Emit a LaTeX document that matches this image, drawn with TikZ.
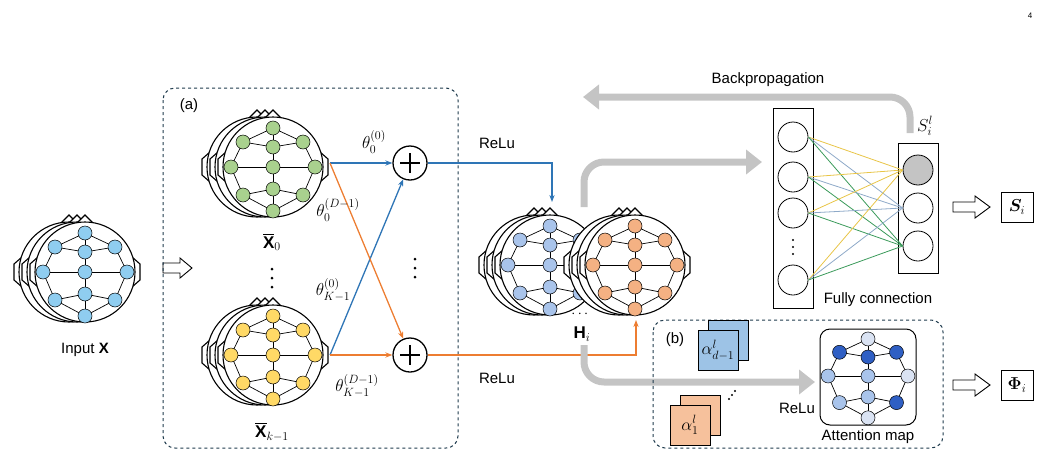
\documentclass[tikz,border=0pt]{standalone}
\usepackage{fontspec}
\setmainfont{Liberation Sans}
\usepackage{amsmath,bm}
\usetikzlibrary{arrows.meta}
\definecolor{lblue}{HTML}{8FCDF0}
\definecolor{lgreen}{HTML}{A9D18E}
\definecolor{lyellow}{HTML}{FFD966}
\definecolor{lorange}{HTML}{F4B183}
\definecolor{sblue}{HTML}{A9C4EB}
\definecolor{sqblue}{HTML}{9DC3E6}
\definecolor{dblue}{HTML}{2F5FC4}
\definecolor{pblue}{HTML}{DAE3F3}
\definecolor{lnblue}{HTML}{2E75B6}
\definecolor{lnorange}{HTML}{ED7D31}
\definecolor{agray}{HTML}{C4C4C4}
\definecolor{dbox}{HTML}{1F3B4D}
\definecolor{fcy}{HTML}{E8C547}
\definecolor{fcb}{HTML}{8EA9C8}
\definecolor{fcg}{HTML}{3A9A5A}
\tikzset{
 enode/.style={circle,draw=black,line width=0.5pt,minimum size=14pt,inner sep=0pt},
 gedge/.style={line width=0.7pt},
 headline/.style={line width=1.1pt,fill=white},
 dbx/.style={draw=dbox,dashed,line width=1pt,rounded corners=12pt},
 garrow/.style={agray,line width=7pt,-{Triangle[length=16pt,width=24pt]}},
 fcc/.style={circle,draw,line width=0.8pt,minimum size=30pt,inner sep=0pt},
 hollow/.style={draw,line width=0.9pt,fill=white},
 plus/.style={circle,draw,line width=1.3pt,minimum size=34pt,inner sep=0pt},
 mlbl/.style={font=\fontsize{17}{20}\selectfont},
 dot/.style={circle,fill=black,inner sep=0pt,minimum size=3pt},
 sdot/.style={circle,fill=black,inner sep=0pt,minimum size=2.2pt},
}
\newcommand\onehead[2]{%
 \begin{scope}[shift={(#1,#2)}]
 \draw[headline] (-47,-15)--(-55,-8)--(-55,8)--(-47,15)--cycle;
 \draw[headline] (47,-15)--(55,-8)--(55,8)--(47,15)--cycle;
 \draw[headline] (-8,-49)--(0,-57)--(8,-49)--cycle;
 \draw[headline] (0,0) circle[radius=50pt];
 \end{scope}}
\newcommand\eeggraph[3]{%
 \begin{scope}[shift={(#2,#3)}]
 \foreach \n/\a/\b in {t/0/-39,ul/-30/-25,um/0/-20,ur/30/-25,l/-42/0,c/0/0,r/42/0,ll/-30/28,lm/0/22,lr/30/28,b/0/44}
   {\coordinate (g#2\n) at (\a,\b);}
 \foreach \u/\v in {t/ul,t/ur,t/um,um/ul,um/ur,ul/l,ur/r,l/c,c/r,um/c,c/lm,lm/ll,lm/lr,ll/l,lr/r,ll/b,lr/b,lm/b}
   {\draw[gedge] (g#2\u)--(g#2\v);}
 \foreach \n in {t,ul,um,ur,l,c,r,ll,lm,lr,b}
   {\node[enode,fill=#1] (n#2\n) at (g#2\n) {};}
 \end{scope}}
\newcommand\headstack[3]{\onehead{#1-16}{#2}\onehead{#1-8}{#2}\onehead{#1}{#2}\eeggraph{#3}{#1}{#2}}
\newcommand\vdotsat[4][dot]{\node[#1] (#2a) at (#3,#4-9) {};\node[#1] (#2b) at (#3,#4) {};\node[#1] (#2c) at (#3,#4+9) {};}
\begin{document}
\begin{tikzpicture}[x=1pt,y=-1pt,font=\fontsize{15}{18}\selectfont]
\useasboundingbox (0,0) rectangle (1042,461);
\node[font=\footnotesize] (pg) at (1030,16) {4};
% input
\headstack{85}{272}{lblue}
\node (inx) at (85,350) {Input $\mathbf{X}$};
\draw[hollow] (163,263)--(180,263)--(180,258)--(192,268)--(180,278)--(180,273)--(163,273)--cycle;
% box a
\draw[dbx] (163,88) rectangle (458,448);
\node (la) at (189,106) {(a)};
\headstack{273}{167}{lgreen}
\node[mlbl] (x0) at (272,242) {$\overline{\mathbf{X}}_0$};
\headstack{273}{355}{lyellow}
\vdotsat{da}{272}{278}
\node[mlbl] (xk) at (272,432) {$\overline{\mathbf{X}}_{k-1}$};
\node[plus] (p1) at (410,163) {};
\node[plus] (p2) at (410,355) {};
\draw[line width=1.5pt] (p1.center) ++(-10,0) -- ++(20,0) (p1.center) ++(0,-10) -- ++(0,20);
\draw[line width=1.5pt] (p2.center) ++(-10,0) -- ++(20,0) (p2.center) ++(0,-10) -- ++(0,20);
\vdotsat{db}{415}{268}
\coordinate (gr) at (330,163);
\coordinate (yr) at (330,355);
\draw[lnblue,line width=1.3pt,-{Stealth[length=7pt]}] (gr)--(p1);
\draw[lnblue,line width=1.3pt,-{Stealth[length=7pt]}] (yr)--(p1);
\draw[lnorange,line width=1.3pt,-{Stealth[length=7pt]}] (gr)--(p2);
\draw[lnorange,line width=1.3pt,-{Stealth[length=7pt]}] (yr)--(p2);
\node[mlbl] (t1) at (374,142) {$\theta_0^{(0)}$};
\node[mlbl] (t2) at (338,210) {$\theta_0^{(D-1)}$};
\node[mlbl] (t3) at (333,290) {$\theta_{K-1}^{(0)}$};
\node[mlbl] (t4) at (357,386) {$\theta_{K-1}^{(D-1)}$};
% heads H
\headstack{550}{265}{sblue}
\headstack{635}{265}{lorange}
\node (hd) at (581,314) {$\cdots$};
\node[mlbl] (hi) at (582,334) {$\mathbf{H}_i$};
\coordinate (bt) at (552,202);
\coordinate (ot) at (636,320);
\draw[lnblue,line width=1.3pt,-{Stealth[length=7pt]}] (p1)--(552,163)--(bt);
\draw[lnorange,line width=1.3pt,-{Stealth[length=7pt]}] (p2)--(636,355)--(ot);
\node (r1) at (497,143) {ReLu};
\node (r2) at (497,378) {ReLu};
% gray arrows
\coordinate (ga1) at (584,207);
\coordinate (ga1e) at (762,162);
\draw[garrow,rounded corners=20pt] (ga1)--(584,162)--(ga1e);
\coordinate (ga2) at (584,345);
\coordinate (ga2e) at (815,382);
\draw[garrow,rounded corners=20pt] (ga2)--(584,382)--(ga2e);
\coordinate (bp1) at (910,133);
\coordinate (bp2) at (583,97);
\draw[garrow,rounded corners=20pt] (bp1)--(910,97)--(bp2);
\node (bpt) at (768,80) {Backpropagation};
% FC
\node[draw,line width=0.9pt,minimum width=40pt,minimum height=200pt] (fc) at (793,208) {};
\foreach \i/\y in {1/137,2/177,3/213,4/280} {\node[fcc] (f\i) at (793,\y) {};}
\node[sdot] (dc1) at (793,240) {};\node[sdot] (dc2) at (793,247) {};\node[sdot] (dc3) at (793,254) {};
\node[draw,line width=0.9pt,minimum width=40pt,minimum height=130pt] (ob) at (918,208) {};
\node[fcc,fill=agray] (o1) at (918,170) {};
\node[fcc] (o2) at (918,208) {};
\node[fcc] (o3) at (918,246) {};
\foreach \i in {1,2,3,4}{
 \draw[fcy,line width=0.8pt] (f\i.east)--(o1.west);
 \draw[fcb,line width=0.8pt] (f\i.east)--(o2.west);
 \draw[fcg,line width=0.8pt] (f\i.east)--(o3.west);}
\node[mlbl] (sil) at (925,126) {$S_i^l$};
\node (fcl) at (878,300) {Fully connection};
\draw[hollow] (953,202)--(975,202)--(975,196)--(990,207)--(975,218)--(975,212)--(953,212)--cycle;
\node[draw,line width=0.9pt,minimum width=32pt,minimum height=30pt,mlbl] (so) at (1017,207) {$\bm{S}_i$};
% box b
\draw[dbx] (653,320) rectangle (943,448);
\node (lb) at (675,340) {(b)};
\node[draw,fill=sqblue,minimum size=40pt] (sq1b) at (728,340) {};
\node[draw,fill=sqblue,minimum size=40pt,mlbl] (sq1) at (718,350) {$\alpha_{d-1}^l$};
\node[draw,fill=lorange!80,minimum size=40pt] (sq2b) at (700,415) {};
\node[draw,fill=lorange!80,minimum size=40pt,mlbl] (sq2) at (690,425) {$\alpha_1^l$};
\node[sdot] (sd1) at (729,399) {};\node[sdot] (sd2) at (732,395) {};\node[sdot] (sd3) at (735,391) {};
\node (r3) at (797,408) {ReLu};
\node[draw,line width=1pt,rounded corners=10pt,minimum size=96pt] (am) at (868,377) {};
\begin{scope}[shift={(868,376)},scale=0.95]
 \foreach \n/\a/\b in {t/0/-39,ul/-30/-25,um/0/-20,ur/30/-25,l/-42/0,c/0/0,r/42/0,ll/-30/28,lm/0/22,lr/30/28,b/0/44}
   {\coordinate (a\n) at (\a,\b);}
 \foreach \u/\v in {t/ul,t/ur,t/um,um/ul,um/ur,ul/l,ur/r,l/c,c/r,um/c,c/lm,lm/ll,lm/lr,ll/l,lr/r,ll/b,lr/b,lm/b}
   {\draw[gedge] (a\u)--(a\v);}
 \foreach \n/\c in {t/pblue,ul/dblue,um/dblue,ur/dblue,l/sblue,c/sblue,r/pblue,ll/sblue,lm/sblue,lr/dblue,b/pblue}
   {\node[enode,fill=\c] (an\n) at (a\n) {};}
\end{scope}
\node (aml) at (868,437) {Attention map};
\draw[hollow] (953,380)--(975,380)--(975,374)--(990,385)--(975,396)--(975,390)--(953,390)--cycle;
\node[draw,line width=0.9pt,minimum width=32pt,minimum height=30pt,mlbl] (po) at (1017,385) {$\bm{\Phi}_i$};
\end{tikzpicture}
\end{document}
